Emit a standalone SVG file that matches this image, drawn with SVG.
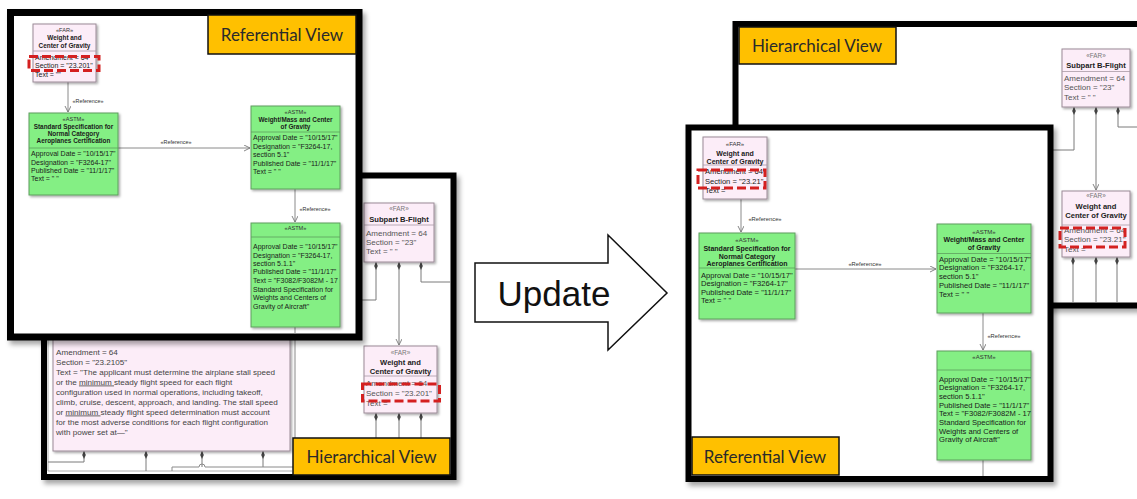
<svg xmlns="http://www.w3.org/2000/svg" width="1137" height="499" viewBox="0 0 1137 499">
<style>
.panel{fill:#fff;stroke:#000;stroke-width:6;filter:url(#psh)}
.lbl{fill:#FFC000;stroke:#111;stroke-width:1.5}
.lblt{font-family:Lato,"Liberation Sans",sans-serif;font-size:17px;fill:#2a2a2a;text-anchor:middle}
.g{fill:#84ef84;stroke:#5e9e5e;stroke-width:1;filter:url(#nsh)}
.p{fill:#fcedf8;stroke:#9a8a96;stroke-width:1;filter:url(#nsh)}
.sepg{stroke:#5e9e5e;stroke-width:0.8}
.sepp{stroke:#a899a4;stroke-width:0.8}
text{font-family:"Liberation Sans",Arial,sans-serif}
.st{font-size:5.6px;fill:#333;text-anchor:middle}
.nm{font-size:6.4px;font-weight:bold;fill:#1a1a1a;text-anchor:middle}
.at{font-size:7px;fill:#1a1a1a}
.st2{font-size:6px;fill:#333;text-anchor:middle}
.nm2{font-size:7px;font-weight:bold;fill:#1a1a1a;text-anchor:middle}
.at2{font-size:7.6px;fill:#1a1a1a}
.stf{font-size:6.4px;fill:#777;text-anchor:middle}
.nmf{font-size:7.6px;font-weight:bold;fill:#222;text-anchor:middle}
.atf{font-size:8px;fill:#555}
.ref{font-size:5.4px;fill:#333;text-anchor:middle}
.ref2{font-size:5.8px;fill:#333;text-anchor:middle}
.big{font-size:8.1px;fill:#444}
.c{fill:none;stroke:#8a8a8a;stroke-width:1}
.ca{fill:none;stroke:#8a8a8a;stroke-width:1;marker-end:url(#arr)}
.cd{fill:none;stroke:#7a7a7a;stroke-width:1;marker-start:url(#dia)}
.cda{fill:none;stroke:#7a7a7a;stroke-width:1;marker-start:url(#dia);marker-end:url(#arr)}
.red{fill:none;stroke:#d42020;stroke-width:3;stroke-dasharray:9 4}
</style>
<defs>
<filter id="psh" x="-5%" y="-5%" width="115%" height="115%"><feDropShadow dx="3" dy="4" stdDeviation="2.5" flood-color="#000" flood-opacity="0.35"/></filter>
<filter id="nsh" x="-10%" y="-10%" width="125%" height="125%"><feDropShadow dx="1.5" dy="1.5" stdDeviation="0.8" flood-color="#000" flood-opacity="0.35"/></filter>
<marker id="arr" markerWidth="8" markerHeight="8" refX="6" refY="3" orient="auto" markerUnits="userSpaceOnUse"><path d="M0,0 L6,3 L0,6" fill="none" stroke="#777" stroke-width="0.9"/></marker>
<marker id="dia" markerWidth="10" markerHeight="6" refX="0" refY="2" orient="auto" markerUnits="userSpaceOnUse"><path d="M0,2 L4,0.2 L8,2 L4,3.8 Z" fill="#444"/></marker>
</defs>

<!-- ================= LEFT: Hierarchical (back) ================= -->
<g id="left-hierarchical-panel">
<rect class="panel" x="44" y="175.5" width="409.5" height="301.5"/>
<path d="M48,330 V471 H292" fill="none" stroke="#999" stroke-width="0.8"/>
</g>
<g id="left-h-connectors">
<path class="cd" d="M376,262 V300 H340"/>
<path class="cda" d="M399,262 V345"/>
<path class="cd" d="M421,262 V282 H451"/>
<path class="cd" d="M376,413 V438"/>
<path class="cd" d="M399,413 V438"/>
<path class="cd" d="M421,413 V438"/>
<path class="c" d="M295,338 V438"/>
<path class="cd" d="M84,451 V462 H48"/>
<path class="cd" d="M146,451 V471"/>
<path class="cd" d="M202,451 V467"/>
<path class="cd" d="M263,451 V467"/>
<path class="c" d="M172,471 V467 H199 A3,3 0 0 1 205,467 H293"/>
</g>
<g id="left-far-text-node">
<rect class="p" x="53" y="320" width="237" height="131"/>
<text class="big" x="56" y="354.5">Amendment = 64</text>
<text class="big" x="56" y="364.5">Section = "23.2105"</text>
<text class="big" x="56" y="374.5">Text = "The applicant must determine the airplane stall speed</text>
<text class="big" x="56" y="384.5">or the <tspan text-decoration="underline">minimum </tspan> steady flight speed for each flight</text>
<text class="big" x="56" y="394.5">configuration used in normal operations, including takeoff,</text>
<text class="big" x="56" y="404.5">climb, cruise, descent, approach, and landing. The stall speed</text>
<text class="big" x="56" y="414.5">or <tspan text-decoration="underline">minimum </tspan> steady flight speed determination must account</text>
<text class="big" x="56" y="424.5">for the most adverse conditions for each flight configuration</text>
<text class="big" x="56" y="434.5">with power set at—"</text>
</g>
<g id="left-h-subpart-b">
<rect class="p" x="364" y="203" width="70" height="59"/>
<line class="sepp" x1="364" y1="225" x2="434" y2="225"/>
<text class="stf" x="399" y="211">«FAR»</text>
<text class="nmf" x="399" y="222">Subpart B-Flight</text>
<text class="atf" x="366" y="235.5">Amendment = 64</text>
<text class="atf" x="366" y="244.5">Section = "23"</text>
<text class="atf" x="366" y="254">Text = " "</text>
</g>
<g id="left-h-weight-cg">
<rect class="p" x="364" y="346" width="73" height="67"/>
<line class="sepp" x1="364" y1="376" x2="437" y2="376"/>
<text class="stf" x="400.5" y="355">«FAR»</text>
<text class="nmf" x="400.5" y="365">Weight and</text>
<text class="nmf" x="400.5" y="373.5">Center of Gravity</text>
<text class="atf" x="366" y="386">Amendment = 64</text>
<text class="atf" x="366" y="396">Section = "23.201"</text>
<text class="atf" x="366" y="406">Text =</text>
<rect class="red" x="362.5" y="384" width="77" height="17"/>
</g>
<g id="left-hierarchical-label">
<rect class="lbl" x="293" y="438" width="157" height="37"/>
<text class="lblt" x="371.5" y="463">Hierarchical View</text>
</g>

<!-- ================= LEFT: Referential (front) ================= -->
<g id="left-referential-panel">
<rect class="panel" x="10.5" y="12.5" width="348.5" height="324.5" stroke-width="7" style="stroke-width:7"/>
</g>
<g id="left-r-connectors">
<path class="ca" d="M68,82 V112"/>
<text class="ref" x="88" y="103">«Reference»</text>
<path class="ca" d="M118,148 H250"/>
<text class="ref" x="176" y="144">«Reference»</text>
<path class="ca" d="M295,189 V222"/>
<text class="ref" x="315" y="211">«Reference»</text>
<path class="c" d="M295,327 V334"/>
</g>
<g id="left-r-far-weight-cg">
<rect class="p" x="33" y="24" width="63" height="58"/>
<line class="sepp" x1="33" y1="51" x2="96" y2="51"/>
<text class="st" x="64.5" y="31.5">«FAR»</text>
<text class="nm" x="64.5" y="40">Weight and</text>
<text class="nm" x="64.5" y="48">Center of Gravity</text>
<text class="at" x="35" y="59.5" fill="#555">Amendment = 64</text>
<text class="at" x="35" y="67.5">Section = "23.201"</text>
<text class="at" x="35" y="76.5">Text = ""</text>
<rect class="red" x="29" y="56.5" width="70" height="14"/>
</g>
<g id="left-r-astm-std-spec">
<rect class="g" x="29" y="113" width="89" height="82"/>
<line class="sepg" x1="29" y1="148" x2="118" y2="148"/>
<text class="st" x="73.5" y="120.5">«ASTM»</text>
<text class="nm" x="73.5" y="129">Standard Specification for</text>
<text class="nm" x="73.5" y="136">Normal Category</text>
<text class="nm" x="73.5" y="143">Aeroplanes Certification</text>
<text class="at" x="31" y="156">Approval Date = "10/15/17"</text>
<text class="at" x="31" y="164.5">Designation = "F3264-17"</text>
<text class="at" x="31" y="172.5">Published Date = "11/1/17"</text>
<text class="at" x="31" y="181">Text = " "</text>
</g>
<g id="left-r-astm-weight-mass">
<rect class="g" x="251" y="106" width="89" height="83"/>
<line class="sepg" x1="251" y1="132" x2="340" y2="132"/>
<text class="st" x="295.5" y="113.5">«ASTM»</text>
<text class="nm" x="295.5" y="121.5">Weight/Mass and Center</text>
<text class="nm" x="295.5" y="129">of Gravity</text>
<text class="at" x="253" y="140">Approval Date = "10/15/17"</text>
<text class="at" x="253" y="148.5">Designation = "F3264-17,</text>
<text class="at" x="253" y="157">section 5.1"</text>
<text class="at" x="253" y="165.5">Published Date = "11/1/17"</text>
<text class="at" x="253" y="174">Text = " "</text>
</g>
<g id="left-r-astm-f3082">
<rect class="g" x="251" y="223" width="89" height="104"/>
<line class="sepg" x1="251" y1="237" x2="340" y2="237"/>
<text class="st" x="295.5" y="229.5">«ASTM»</text>
<text class="at" x="253" y="249">Approval Date = "10/15/17"</text>
<text class="at" x="253" y="257.5">Designation = "F3264-17,</text>
<text class="at" x="253" y="266">section 5.1.1"</text>
<text class="at" x="253" y="274">Published Date = "11/1/17"</text>
<text class="at" x="253" y="282.5">Text = "F3082/F3082M - 17</text>
<text class="at" x="253" y="291.5">Standard Specification for</text>
<text class="at" x="253" y="300">Weights and Centers of</text>
<text class="at" x="253" y="308.5">Gravity of Aircraft"</text>
</g>
<g id="left-referential-label">
<rect class="lbl" x="208" y="15" width="148" height="39"/>
<text class="lblt" x="282" y="41">Referential View</text>
</g>

<!-- ================= UPDATE ARROW ================= -->
<g id="update-arrow">
<polygon points="475,263 608,263 608,235 667,293 608,350 608,322 475,322" fill="#fff" stroke="#111" stroke-width="1.5"/>
<text x="554" y="306" font-family="Lato,'Liberation Sans',sans-serif" font-size="35" fill="#111" text-anchor="middle">Update</text>
</g>

<!-- ================= RIGHT: Hierarchical (back) ================= -->
<g id="right-hierarchical-panel">
<rect class="panel" x="735.5" y="24" width="410" height="281.5"/>
</g>
<g id="right-h-connectors">
<path class="cd" d="M1074,107 V150 H1045"/>
<path class="cda" d="M1096,107 V190"/>
<path class="cd" d="M1118,107 V127 H1140"/>
<path class="cd" d="M1073,257 V302"/>
<path class="cd" d="M1096,257 V302"/>
<path class="cd" d="M1117,257 V302"/>
</g>
<g id="right-h-subpart-b">
<rect class="p" x="1062" y="49" width="68" height="58"/>
<line class="sepp" x1="1062" y1="71.5" x2="1130" y2="71.5"/>
<text class="stf" x="1096" y="57.5">«FAR»</text>
<text class="nmf" x="1096" y="67.5">Subpart B-Flight</text>
<text class="atf" x="1064" y="81">Amendment = 64</text>
<text class="atf" x="1064" y="90">Section = "23"</text>
<text class="atf" x="1064" y="100">Text = " "</text>
</g>
<g id="right-h-weight-cg">
<rect class="p" x="1062" y="191" width="68" height="66"/>
<line class="sepp" x1="1062" y1="225" x2="1130" y2="225"/>
<text class="stf" x="1096" y="197.5">«FAR»</text>
<text class="nmf" x="1096" y="209">Weight and</text>
<text class="nmf" x="1096" y="217.5">Center of Gravity</text>
<text class="atf" x="1064" y="232.5">Amendment = 64</text>
<text class="atf" x="1064" y="241.5">Section = "23.21"</text>
<text class="atf" x="1064" y="251.5">Text =</text>
<rect class="red" x="1060" y="228" width="65" height="19"/>
</g>
<g id="right-hierarchical-label">
<rect class="lbl" x="739" y="27" width="157" height="37"/>
<text class="lblt" x="817" y="52">Hierarchical View</text>
</g>

<!-- ================= RIGHT: Referential (front) ================= -->
<g id="right-referential-panel">
<rect class="panel" x="688.5" y="127.5" width="362" height="351.5"/>
</g>
<g id="right-r-connectors">
<path class="ca" d="M741,199 V232"/>
<text class="ref2" x="765" y="221">«Reference»</text>
<path class="ca" d="M795,269 H936"/>
<text class="ref2" x="865" y="266">«Reference»</text>
<path class="ca" d="M983,313 V350"/>
<text class="ref2" x="1004" y="338">«Reference»</text>
<path class="c" d="M983,460 V476"/>
</g>
<g id="right-r-far-weight-cg">
<rect class="p" x="703" y="137" width="64" height="62"/>
<line class="sepp" x1="703" y1="165" x2="767" y2="165"/>
<text class="st2" x="735" y="145.5">«FAR»</text>
<text class="nm2" x="735" y="156">Weight and</text>
<text class="nm2" x="735" y="164">Center of Gravity</text>
<text class="at2" x="705" y="174" fill="#555">Amendment = 64</text>
<text class="at2" x="705" y="183.5">Section = "23.21"</text>
<text class="at2" x="705" y="193">Text =</text>
<rect class="red" x="698" y="170" width="67" height="18"/>
</g>
<g id="right-r-astm-std-spec">
<rect class="g" x="699" y="233" width="96" height="86"/>
<line class="sepg" x1="699" y1="268" x2="795" y2="268"/>
<text class="st2" x="747" y="241.5">«ASTM»</text>
<text class="nm2" x="747" y="251">Standard Specification for</text>
<text class="nm2" x="747" y="258.5">Normal Category</text>
<text class="nm2" x="747" y="265.5">Aeroplanes Certification</text>
<text class="at2" x="701" y="277.5">Approval Date = "10/15/17"</text>
<text class="at2" x="701" y="286">Designation = "F3264-17"</text>
<text class="at2" x="701" y="294.5">Published Date = "11/1/17"</text>
<text class="at2" x="701" y="302.5">Text = " "</text>
</g>
<g id="right-r-astm-weight-mass">
<rect class="g" x="937" y="224" width="94" height="89"/>
<line class="sepg" x1="937" y1="253.5" x2="1031" y2="253.5"/>
<text class="st2" x="984" y="234">«ASTM»</text>
<text class="nm2" x="984" y="241.5">Weight/Mass and Center</text>
<text class="nm2" x="984" y="250">of Gravity</text>
<text class="at2" x="939" y="261.5">Approval Date = "10/15/17"</text>
<text class="at2" x="939" y="270">Designation = "F3264-17,</text>
<text class="at2" x="939" y="279">section 5.1"</text>
<text class="at2" x="939" y="288">Published Date = "11/1/17"</text>
<text class="at2" x="939" y="296.5">Text = " "</text>
</g>
<g id="right-r-astm-f3082">
<rect class="g" x="937" y="351" width="94" height="109"/>
<line class="sepg" x1="937" y1="370" x2="1031" y2="370"/>
<text class="st2" x="984" y="359">«ASTM»</text>
<text class="at2" x="939" y="381.5">Approval Date = "10/15/17"</text>
<text class="at2" x="939" y="390">Designation = "F3264-17,</text>
<text class="at2" x="939" y="399">section 5.1.1"</text>
<text class="at2" x="939" y="407.5">Published Date = "11/1/17"</text>
<text class="at2" x="939" y="416">Text = "F3082/F3082M - 17</text>
<text class="at2" x="939" y="424.5">Standard Specification for</text>
<text class="at2" x="939" y="433.5">Weights and Centers of</text>
<text class="at2" x="939" y="442">Gravity of Aircraft"</text>
</g>
<g id="right-referential-label">
<rect class="lbl" x="692" y="437" width="147" height="38"/>
<text class="lblt" x="765" y="463">Referential View</text>
</g>
</svg>
